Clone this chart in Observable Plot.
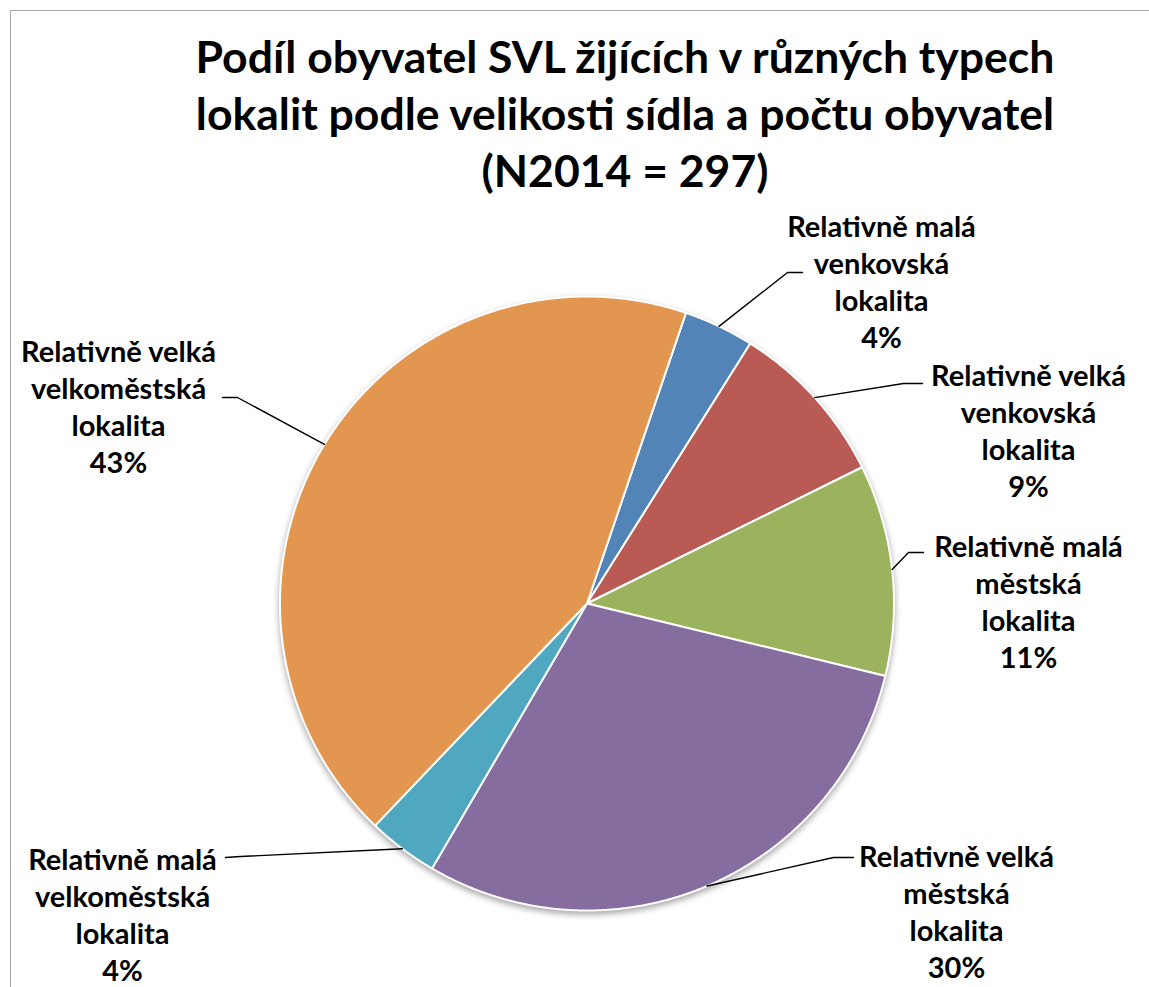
<!DOCTYPE html>
<html><head><meta charset="utf-8">
<script src="https://cdn.jsdelivr.net/npm/d3@7"></script>
<script src="https://cdn.jsdelivr.net/npm/@observablehq/plot@0.6"></script>
<style>
body{margin:0;background:#fff;}
#wrap{position:relative;width:1149px;height:987px;overflow:hidden;font-family:Lato,"Open Sans",sans-serif;}
#frame{position:absolute;left:10px;top:10px;width:1300px;height:1200px;border:1.5px solid #a6a6a6;box-sizing:border-box;}
#title{position:absolute;left:0;width:1250px;top:27px;text-align:center;font-weight:700;font-size:44.5px;line-height:57px;color:#000;}
#chart{position:absolute;left:0;top:0;}
</style>
</head><body>
<div id="wrap">
  <div id="frame"></div>
  <div id="chart"></div>
  <div id="title">Podíl obyvatel SVL žijících v různých typech<br>lokalit podle velikosti sídla a počtu obyvatel<br>(N2014 = 297)</div>
</div>
<script>
// ---- data ----
const categories = [
  "Relativně malá venkovská lokalita",
  "Relativně velká venkovská lokalita",
  "Relativně malá městská lokalita",
  "Relativně velká městská lokalita",
  "Relativně malá velkoměstská lokalita",
  "Relativně velká velkoměstská lokalita"
];
const labelLines = [
  "Relativně malá\nvenkovská\nlokalita",
  "Relativně velká\nvenkovská\nlokalita",
  "Relativně malá\nměstská\nlokalita",
  "Relativně velká\nměstská\nlokalita",
  "Relativně malá\nvelkoměstská\nlokalita",
  "Relativně velká\nvelkoměstská\nlokalita"
];
const counts = [11, 26, 33, 88, 11, 128];
const colors = ["#5384B8", "#B95A54", "#9CB35E", "#866D9F", "#4FA8C0", "#E2964F"];

// ---- layout (pixels) ----
const W = 1149, H = 987;
const cx = 586.5, cy = 603, R = 307;
const startDeg = 18.8;
const labelPos = [[881, 280], [1028, 429], [1028, 600.5], [956, 910], [122, 913], [118, 405]];
const leaderElbow = [[787, 272], [903, 383], [908, 552], [833, 857], [240, 856], [237, 397]];
const leaderEnd = [[802, 272], [922, 383], [923, 552], [853, 857], [225, 857], [222, 397]];
const fontSize = 29, lineGap = 37;

const total = d3.sum(counts);
const a0 = startDeg * Math.PI / 180;
const arcs = d3.pie().sort(null).value(d => d).startAngle(a0).endAngle(a0 + 2 * Math.PI)(counts);

const slicePts = [];
arcs.forEach((a, i) => {
  const cat = categories[i];
  slicePts.push({cat, x: cx, y: cy});
  const n = Math.max(2, Math.ceil((a.endAngle - a.startAngle) / 0.004));
  for (let k = 0; k <= n; k++) {
    const t = a.startAngle + (a.endAngle - a.startAngle) * k / n;
    slicePts.push({cat, x: cx + R * Math.sin(t), y: cy - R * Math.cos(t)});
  }
});

const leaderPts = [];
arcs.forEach((a, i) => {
  const m = (a.startAngle + a.endAngle) / 2;
  const cat = categories[i];
  leaderPts.push({cat, x: cx + R * Math.sin(m), y: cy - R * Math.cos(m)});
  leaderPts.push({cat, x: leaderElbow[i][0], y: leaderElbow[i][1]});
  leaderPts.push({cat, x: leaderEnd[i][0], y: leaderEnd[i][1]});
});

const labels = categories.map((c, i) => ({
  cat: c,
  x: labelPos[i][0],
  y: labelPos[i][1],
  text: labelLines[i] + "\n" + Math.round(counts[i] / total * 100) + "%"
}));

const chart = Plot.plot({
  width: W, height: H, margin: 0,
  x: {domain: [0, W], range: [0, W], axis: null},
  y: {domain: [0, H], range: [0, H], axis: null},
  color: {type: "ordinal", domain: categories, range: colors},
  style: {background: "transparent", fontFamily: "Lato, 'Open Sans', sans-serif"},
  marks: [
    Plot.line(slicePts, {x: "x", y: "y", z: "cat", fill: "cat", stroke: "white", strokeWidth: 2, curve: "linear-closed"}),
    Plot.line(leaderPts, {x: "x", y: "y", z: "cat", stroke: "black", strokeWidth: 1.4}),
    Plot.text(labels, {x: "x", y: "y", text: "text", fontSize, fontWeight: "bold", lineHeight: lineGap / fontSize, fill: "black"})
  ]
});
document.getElementById("chart").appendChild(chart);
const g = chart.querySelector('g[aria-label="line"]');
if (g) g.style.filter = "drop-shadow(0px 3px 3px rgba(0,0,0,0.35))";
</script>
</body></html>
